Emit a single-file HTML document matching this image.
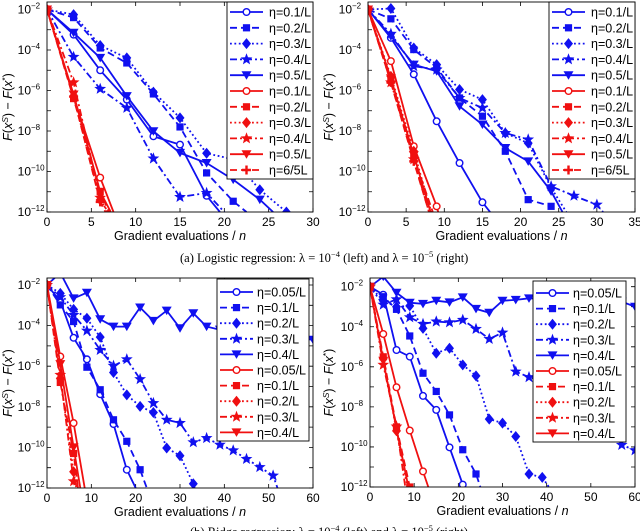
<!DOCTYPE html>
<html><head><meta charset="utf-8"><style>
html,body{margin:0;padding:0;background:#fff;}
svg{display:block;font-family:"Liberation Sans",sans-serif;}
</style></head><body>
<svg id="fig" width="640" height="531" viewBox="0 0 640 531" xmlns="http://www.w3.org/2000/svg">
<text x="180" y="262" font-family="Liberation Serif, serif" font-size="12.5">(a) Logistic regression: λ = 10<tspan dy="-5" font-size="8.5">−4</tspan><tspan dy="5"> (left)  and  λ = 10</tspan><tspan dy="-5" font-size="8.5">−5</tspan><tspan dy="5"> (right)</tspan></text>
<text x="190" y="536" font-family="Liberation Serif, serif" font-size="12.5">(b) Ridge regression: λ = 10<tspan dy="-5" font-size="8.5">−4</tspan><tspan dy="5"> (left)  and  λ = 10</tspan><tspan dy="-5" font-size="8.5">−5</tspan><tspan dy="5"> (right)</tspan></text>
</svg>
<script>
// ---- data: [gradient evaluations / n, log10(F(x^s)-F(x*))]
// Plot A: logistic, lambda=1e-4
const A_b01=[[0,-2],[3,-3.24],[6,-5.0],[9,-6.45],[12,-8.26],[15,-8.67],[18,-11.2],[19.5,-12]];
const A_b02=[[0,-2],[3,-2.4],[6,-3.9],[9,-4.64],[12,-6.17],[15,-7.8],[18,-10.07],[21,-11.47],[22.5,-12]];
const A_b03=[[0,-2],[3,-2.25],[6,-3.78],[9,-4.39],[12,-6.08],[15,-7.35],[18,-9.1],[21,-9.4],[24,-10.9],[27,-12]];
const A_b04=[[0,-2],[3,-4.34],[6,-5.92],[9,-6.86],[12,-9.36],[15,-11.26],[18,-11.06],[20,-12]];
const A_b05=[[0,-2],[3,-3.15],[6,-4.39],[9,-6.28],[12,-8.01],[15,-9.08],[18,-9.58],[21,-10.4],[24,-11.39],[25.5,-12]];
const A_r1=[[0,-2],[3,-6.3],[6,-10.3],[7.5,-12]];
const A_r2=[[0,-2],[3,-6.4],[6,-11.0],[7,-12]];
const A_r3=[[0,-2],[3,-6.3],[6,-11.4],[6.9,-12]];
const A_r4=[[0,-2],[3,-5.6],[6,-11.3],[6.8,-12]];
const A_r5=[[0,-2],[3,-6.2],[6,-11.0],[7.2,-12]];
const A_r6=[[0,-2],[3,-6.3],[6,-11.5],[6.6,-12]];
// Plot B: logistic, lambda=1e-5
const B_b01=[[0,-2],[3,-3.4],[6,-5.2],[9,-7.52],[12,-9.58],[15,-11.52],[16,-12]];
const B_b02=[[0,-2],[3,-2.46],[6,-3.98],[9,-4.88],[12,-6.37],[15,-7.27],[18,-9.0],[21,-11.39],[24,-11.72],[24.5,-12]];
const B_b03=[[0,-2],[3,-1.95],[6,-3.9],[9,-4.72],[12,-5.95],[15,-6.45],[18,-8.1],[21,-8.6],[24,-10.8],[26,-12]];
const B_b04=[[0,-2],[3,-3.2],[6,-4.8],[9,-4.97],[12,-6.37],[15,-6.86],[18,-8.1],[21,-8.42],[24,-10.73],[27,-11.2],[30,-11.64],[30.8,-12]];
const B_b05=[[0,-2],[3,-3.32],[6,-4.72],[9,-5.05],[12,-6.78],[15,-7.68],[18,-8.84],[21,-9.5],[24,-10.98],[25.5,-12]];
const B_r1=[[0,-2],[3,-4.55],[6,-8.75],[9,-11.72],[9.2,-12]];
const B_r2=[[0,-2],[3,-5.5],[6,-9.3],[8.5,-12]];
const B_r3=[[0,-2],[3,-5.3],[6,-9.0],[8.3,-12]];
const B_r4=[[0,-2],[3,-5.6],[6,-9.4],[8,-12]];
const B_r5=[[0,-2],[3,-5.4],[6,-9.2],[8.2,-12]];
const B_r6=[[0,-2],[3,-5.6],[6,-9.5],[8,-12]];
// Plot C: ridge, lambda=1e-4
const C_b1=[[0,-2],[3,-2.8],[6,-4.6],[9,-5.66],[12,-7.38],[15,-8.85],[18,-11.1],[20,-12]];
const C_b2=[[0,-2],[3,-2.98],[6,-3.8],[9,-6.05],[12,-7.16],[15,-8.64],[18,-9.7],[21,-11.1],[22.5,-12]];
const C_b3=[[0,-2],[3,-2.41],[6,-3.2],[9,-3.64],[12,-4.57],[15,-6.31],[18,-7.41],[21,-7.98],[24,-8.28],[27,-10.03],[30,-10.41],[33,-11.79],[33.3,-12]];
const C_b4=[[0,-2],[3,-2.6],[6,-3.48],[9,-4.25],[12,-5.2],[15,-5.98],[18,-5.66],[21,-6.64],[24,-7.82],[27,-8.64],[30,-8.8],[33,-9.75],[36,-9.54],[39,-9.87],[42,-10.15],[45,-10.57],[48,-10.97],[51,-11.39],[52,-12]];
const C_b5=[[0,-2],[3,-1.4],[6,-2.66],[9,-2.38],[12,-3.69],[15,-4.05],[18,-4.05],[21,-3.11],[24,-3.77],[27,-3.26],[30,-4.13],[33,-3.39],[36,-4.05],[39,-4.2],[42,-4.3],[45,-4.3],[48,-4.4],[51,-4.5],[54,-4.5],[57,-4.6],[60,-4.7]];
const C_r1=[[0,-2],[3,-5.52],[6,-8.8],[8.5,-12]];
const C_r2=[[0,-2],[3,-6.8],[6,-10.3],[7,-12]];
const C_r3=[[0,-2],[3,-6.6],[6,-11.2],[6.6,-12]];
const C_r4=[[0,-2],[3,-6.43],[6,-11.67],[6.3,-12]];
const C_r5=[[0,-2],[3,-5.9],[6,-10.0],[7.5,-12]];
// Plot D: ridge, lambda=1e-5
const D_b1=[[0,-2],[3,-2.4],[6,-5.16],[9,-5.49],[12,-7.45],[15,-8.15],[18,-10.02],[21,-11.88],[21.3,-12]];
const D_b2=[[0,-2],[3,-2.5],[6,-3.13],[9,-4.46],[12,-6.32],[15,-7.23],[18,-8.4],[21,-10.14],[24,-11.35],[25,-12]];
const D_b3=[[0,-2],[3,-2.7],[6,-3.0],[9,-2.96],[12,-4.08],[15,-5.32],[18,-5.07],[21,-5.9],[24,-6.45],[27,-8.61],[30,-8.81],[33,-9.48],[36,-11.35],[39,-11.52],[40.5,-12]];
const D_b4=[[0,-2],[3,-2.9],[6,-2.63],[9,-3.53],[12,-3.86],[15,-3.74],[18,-3.78],[21,-3.66],[24,-4.11],[27,-4.61],[30,-4.29],[33,-6.24],[36,-6.52],[39,-6.7],[42,-7.0],[45,-7.4],[48,-7.8],[51,-8.3],[54,-8.9],[57,-9.9],[60,-10.17]];
const D_b5=[[0,-2],[3,-1.5],[6,-2.3],[9,-2.8],[12,-2.86],[15,-2.7],[18,-2.78],[21,-2.53],[24,-3.11],[27,-3.3],[30,-2.7],[33,-2.66],[36,-2.58],[39,-2.6],[42,-2.6],[45,-2.6],[48,-2.7],[51,-2.7],[54,-2.7],[57,-2.75],[60,-3.0]];
const D_r1=[[0,-2],[3,-4.36],[6,-7.02],[9,-9.18],[12,-11.22],[13.2,-12]];
const D_r2=[[0,-2],[3,-5.5],[6,-9.0],[9,-12]];
const D_r3=[[0,-2],[3,-5.6],[6,-9.2],[8.5,-12]];
const D_r4=[[0,-2],[3,-5.9],[6,-8.98],[8,-12]];
const D_r5=[[0,-2],[3,-5.7],[6,-9.1],[8.7,-12]];

const labelsTop=["η=0.1/L","η=0.2/L","η=0.3/L","η=0.4/L","η=0.5/L","η=0.1/L","η=0.2/L","η=0.3/L","η=0.4/L","η=0.5/L","η=6/5L"];
const labelsBot=["η=0.05/L","η=0.1/L","η=0.2/L","η=0.3/L","η=0.4/L","η=0.05/L","η=0.1/L","η=0.2/L","η=0.3/L","η=0.4/L"];
const yTickExps=[-2,-4,-6,-8,-10,-12];

const NS="http://www.w3.org/2000/svg";
const svg=document.getElementById('fig');
const BLUE="#1010f0", RED="#f01010";
const dashes={solid:"",dashed:"7,4",dotted:"1.8,2.6",dashdot:"7,3,2,3"};
function mk(tag,attrs,parent){const e=document.createElementNS(NS,tag);for(const k in attrs)e.setAttribute(k,attrs[k]);(parent||svg).appendChild(e);return e;}

function marker(g,type,cx,cy,col){
  let e;
  if(type==='o'){e=mk('circle',{cx,cy,r:3.3,fill:'#fff',stroke:col,'stroke-width':1.4},g);}
  else if(type==='s'){e=mk('rect',{x:cx-3.6,y:cy-3.6,width:7.2,height:7.2,fill:col},g);}
  else if(type==='d'){e=mk('polygon',{points:`${cx},${cy-5.5} ${cx+4.5},${cy} ${cx},${cy+5.5} ${cx-4.5},${cy}`,fill:col},g);}
  else if(type==='p'){let p=[];for(let i=0;i<10;i++){const r=i%2?2.6:6.2,a=-Math.PI/2+i*Math.PI/5;p.push((cx+r*Math.cos(a)).toFixed(1)+','+(cy+r*Math.sin(a)).toFixed(1));}e=mk('polygon',{points:p.join(' '),fill:col},g);}
  else if(type==='v'){e=mk('polygon',{points:`${cx-5},${cy-4} ${cx+5},${cy-4} ${cx},${cy+4.5}`,fill:col},g);}
  else if(type==='+'){e=mk('path',{d:`M${cx-4.5},${cy}H${cx+4.5}M${cx},${cy-4.5}V${cy+4.5}`,stroke:col,'stroke-width':2.4},g);}
  
  
}

function plot(cfg){
  const {id,x0,x1,xmax,xstep,yT,yB,boxTop,series,labels,leg,ylx}=cfg;
  const sx=v=>x0+(x1-x0)*v/xmax;
  const sy=v=>yT+(yB-yT)*(v+2)/(-10);
  const g=mk('g',{});
  
  
  const cp=mk('clipPath',{id:'clip-'+id},g);
  mk('rect',{x:x0,y:boxTop,width:x1-x0,height:yB-boxTop},cp);
  for(let v=0;v<=xmax;v+=xstep){
    const X=sx(v);
    mk('path',{d:`M${X},${yB}v-4M${X},${boxTop}v4`,stroke:'#000','stroke-width':0.8},g);
    const t=mk('text',{x:X,y:yB+14,'font-size':12,'text-anchor':'middle'},g);t.textContent=v;
    
    
  }
  for(let e=-2;e>=-12;e--){
    const Y=sy(e);
    mk('path',{d:`M${x0},${Y}h4M${x1},${Y}h-4`,stroke:'#000','stroke-width':0.8},g);
  }
  yTickExps.forEach(e=>{
    const Y=sy(e);
    const t=mk('text',{x:x0-16,y:Y+4,'font-size':12,'text-anchor':'end'},g);t.textContent='10';
    
    
    const s=mk('text',{x:x0-16,y:Y-1,'font-size':8,'text-anchor':'start'},g);s.textContent='−'+(-e);
    
    
  });
  const xl=mk('text',{x:(x0+x1)/2,y:yB+28,'font-size':12.5,'text-anchor':'middle'},g);
  xl.innerHTML='Gradient evaluations / <tspan font-style="italic">n</tspan>';
  
  
  const ycy=(boxTop+yB)/2;
  const yl=mk('text',{x:ylx,y:ycy,'font-size':12.5,'text-anchor':'middle',transform:`rotate(-90 ${ylx} ${ycy})`},g);
  yl.innerHTML='<tspan font-style="italic">F</tspan>(<tspan font-style="italic">x</tspan><tspan dy="-4" font-size="8.5" font-style="italic">S</tspan><tspan dy="4">) − </tspan><tspan font-style="italic">F</tspan>(<tspan font-style="italic">x</tspan><tspan dy="-4" font-size="8.5">*</tspan><tspan dy="4">)</tspan>';
  
  
  const dg=mk('g',{'clip-path':`url(#clip-${id})`},g);
  series.forEach(s=>{
    const pts=s.data.map(p=>sx(p[0]).toFixed(1)+','+sy(p[1]).toFixed(1)).join(' ');
    const pl=mk('polyline',{points:pts,fill:'none',stroke:s.col,'stroke-width':1.8,'stroke-dasharray':dashes[s.ls]},dg);
    
    
    s.data.forEach(p=>{ if(p[0]%3===0 && p[1]>-12.1) marker(dg,s.m,sx(p[0]),sy(p[1]),s.col); });
  });
  mk('rect',{x:x0,y:boxTop,width:x1-x0,height:yB-boxTop,fill:'none',stroke:'#000','stroke-width':0.9},g);
  const lg=mk('g',{},g);
  
  
  mk('rect',{x:leg.x,y:leg.y,width:leg.w,height:leg.h,fill:'#fff',stroke:'#000','stroke-width':0.9},lg);
  series.forEach((s,i)=>{
    const Y=leg.y0+i*leg.dy;
    const ln=mk('path',{d:`M${leg.x+3},${Y}H${leg.x+36}`,stroke:s.col,'stroke-width':1.8,'stroke-dasharray':dashes[s.ls]},lg);
    
    
    marker(lg,s.m,leg.x+19.5,Y,s.col);
    const t=mk('text',{x:leg.x+leg.tx,y:Y+4.5,'font-size':12.5},lg);t.textContent=labels[i];
    
    
  });
}
const ms=['o','s','d','p','v'];
const lss=['solid','dashed','dotted','dashdot','solid'];
function ser(blues,reds,redM,redL){
  const out=[];
  blues.forEach((d,i)=>out.push({data:d,col:BLUE,m:ms[i],ls:lss[i]}));
  reds.forEach((d,i)=>out.push({data:d,col:RED,m:redM[i],ls:redL[i]}));
  return out;
}
plot({id:'plot-logistic-1e-4',x0:47,x1:313,xmax:30,xstep:5,yT:9.5,yB:212,boxTop:2,ylx:12,
  series:ser([A_b01,A_b02,A_b03,A_b04,A_b05],[A_r1,A_r2,A_r3,A_r4,A_r5,A_r6],['o','s','d','p','v','+'],['solid','dashed','dotted','dashdot','solid','dashed']),
  labels:labelsTop,leg:{x:227,y:2,w:86,h:177,y0:12,dy:15.8,tx:42}});
plot({id:'plot-logistic-1e-5',x0:368,x1:635,xmax:35,xstep:5,yT:9.5,yB:212,boxTop:2,ylx:333,
  series:ser([B_b01,B_b02,B_b03,B_b04,B_b05],[B_r1,B_r2,B_r3,B_r4,B_r5,B_r6],['o','s','d','p','v','+'],['solid','dashed','dotted','dashdot','solid','dashed']),
  labels:labelsTop,leg:{x:549,y:2,w:86,h:177,y0:12,dy:15.8,tx:42}});
plot({id:'plot-ridge-1e-4',x0:47,x1:313,xmax:60,xstep:10,yT:285,yB:488,boxTop:278,ylx:12,
  series:ser([C_b1,C_b2,C_b3,C_b4,C_b5],[C_r1,C_r2,C_r3,C_r4,C_r5],['o','s','d','p','v'],['solid','dashed','dotted','dashdot','solid']),
  labels:labelsBot,leg:{x:217,y:279,w:92,h:162,y0:292,dy:15.6,tx:40}});
plot({id:'plot-ridge-1e-5',x0:370,x1:635,xmax:60,xstep:10,yT:286.7,yB:487,boxTop:278,ylx:333,
  series:ser([D_b1,D_b2,D_b3,D_b4,D_b5],[D_r1,D_r2,D_r3,D_r4,D_r5],['o','s','d','p','v'],['solid','dashed','dotted','dashdot','solid']),
  labels:labelsBot,leg:{x:533,y:281,w:93,h:161,y0:293,dy:15.6,tx:40}});
</script>
</body></html>
